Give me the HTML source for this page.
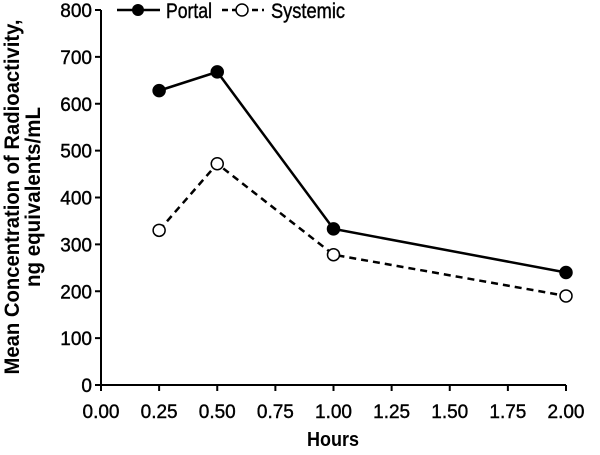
<!DOCTYPE html>
<html><head><meta charset="utf-8"><style>
body{margin:0;background:#fff}
svg text{font-family:"Liberation Sans Narrow","Liberation Sans",sans-serif;fill:#000}
</style></head><body>
<svg width="600" height="450" xmlns="http://www.w3.org/2000/svg">
<g id="axes"></g><g id="plot"></g><g id="legend"></g>
<text x="333" y="446" text-anchor="middle" font-size="20" font-weight="bold" textLength="52" lengthAdjust="spacingAndGlyphs">Hours</text>
<text transform="translate(19,197) rotate(-90)" text-anchor="middle" font-size="21" font-weight="bold" textLength="355" lengthAdjust="spacingAndGlyphs">Mean Concentration of Radioactivity,</text>
<text transform="translate(40,197) rotate(-90)" text-anchor="middle" font-size="21" font-weight="bold" textLength="180" lengthAdjust="spacingAndGlyphs">ng equivalents/mL</text>
</svg>
<script>
const xVals=[0.25,0.5,1.0,2.0];
const portal=[628,668,333,240];
const systemic=[330,472,278,190];
const xTicks=[0,0.25,0.5,0.75,1.0,1.25,1.5,1.75,2.0];
const yTicks=[0,100,200,300,400,500,600,700,800];
const NS="http://www.w3.org/2000/svg";
const X=v=>101+v*232.5, Y=v=>385-v*375/800;
function mk(p,t,a){const e=document.createElementNS(NS,t);for(const k in a)e.setAttribute(k,a[k]);p.appendChild(e);return e;}
const ax=document.getElementById('axes');
let e=mk(ax,'line',{x1:X(0),y1:Y(0),x2:X(2),y2:Y(0),stroke:'#000','stroke-width':2});

e=mk(ax,'line',{x1:X(0),y1:Y(0),x2:X(0),y2:Y(800),stroke:'#000','stroke-width':2});

xTicks.forEach(t=>{
 mk(ax,'line',{x1:X(t),y1:Y(0),x2:X(t),y2:Y(0)+6,stroke:'#000','stroke-width':2});
 const tx=mk(ax,'text',{x:X(t),y:418,'text-anchor':'middle','font-size':19,'stroke':'#000','stroke-width':0.4});
 tx.textContent=t.toFixed(2);
 
 
});
yTicks.forEach(t=>{
 mk(ax,'line',{x1:X(0)-6,y1:Y(t),x2:X(0),y2:Y(t),stroke:'#000','stroke-width':2});
 const tx=mk(ax,'text',{x:92,y:Y(t)+7,'text-anchor':'end','font-size':19,'stroke':'#000','stroke-width':0.4});
 tx.textContent=t;
 
 
});
const pl=document.getElementById('plot');
function series(vals,name,dash,fill){
 const l=mk(pl,'polyline',{points:vals.map((v,i)=>X(xVals[i])+','+Y(v)).join(' '),fill:'none',stroke:'#000','stroke-width':2.5});
 if(dash)l.setAttribute('stroke-dasharray','7,5');
 
 
 vals.forEach((v,i)=>{
  const c=mk(pl,'circle',{cx:X(xVals[i]),cy:Y(v),r:6,fill:fill,stroke:'#000','stroke-width':1.5});
  
  
 });
}
series(portal,'portal',false,'#000');
series(systemic,'systemic',true,'#fff');
const lg=document.getElementById('legend');
mk(lg,'line',{x1:117,y1:10,x2:160,y2:10,stroke:'#000','stroke-width':2.5});
mk(lg,'circle',{cx:138,cy:10,r:6,fill:'#000'});
let t=mk(lg,'text',{x:166,y:18,'font-size':21,'textLength':46,'lengthAdjust':'spacingAndGlyphs','stroke':'#000','stroke-width':0.4});t.textContent='Portal';

mk(lg,'line',{x1:222,y1:10,x2:264,y2:10,stroke:'#000','stroke-width':2.5,'stroke-dasharray':'6,4'});
mk(lg,'circle',{cx:242,cy:10,r:6,fill:'#fff',stroke:'#000','stroke-width':1.5});
t=mk(lg,'text',{x:271,y:18,'font-size':21,'textLength':74,'lengthAdjust':'spacingAndGlyphs','stroke':'#000','stroke-width':0.4});t.textContent='Systemic';

</script>
</body></html>
